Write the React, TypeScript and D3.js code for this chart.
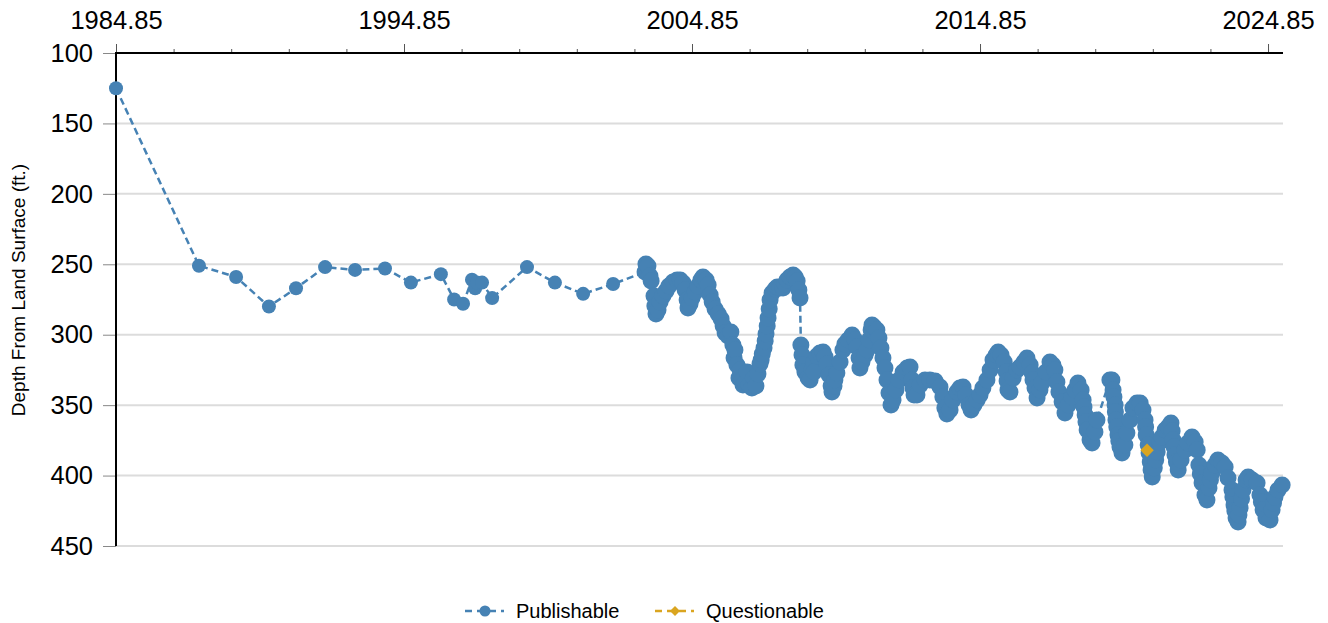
import React, { useEffect, useRef } from 'react';
import * as d3 from 'd3';

// top axis labels (decimal years) and depth ticks
const yearTicks = [1984.85, 1994.85, 2004.85, 2014.85, 2024.85];
const depthTicks = [100, 150, 200, 250, 300, 350, 400, 450];

// periodic tape measurements, [decimal year, depth ft]
const periodic: [number, number][] = [
  [1984.85, 125], [1987.73, 251], [1989.02, 259], [1990.16, 280], [1991.1, 267],
  [1992.11, 252], [1993.15, 254], [1994.19, 253], [1995.09, 263], [1996.13, 257],
  [1996.59, 275], [1996.9, 278], [1997.21, 261], [1997.32, 267], [1997.38, 263],
  [1997.56, 263], [1997.91, 274], [1999.12, 252], [2000.09, 263], [2001.07, 271],
  [2002.11, 264],
];

// continuous recorder record
const recorder: [number, number][] = [
  [2003.22, 255.5], [2003.25, 249.8], [2003.32, 251.2], [2003.39, 258.3], [2003.43, 261.9],
  [2003.53, 272.5], [2003.56, 279.6], [2003.6, 285.3], [2003.67, 282.4], [2003.74, 276.8],
  [2003.84, 272.5], [2003.95, 269.0], [2004.05, 265.4], [2004.19, 262.6], [2004.33, 261.2],
  [2004.44, 261.2], [2004.54, 263.3], [2004.61, 268.3], [2004.68, 275.4], [2004.71, 281.0],
  [2004.78, 278.2], [2004.85, 273.9], [2004.96, 269.7], [2005.06, 265.4], [2005.16, 261.2],
  [2005.23, 259.0], [2005.34, 261.2], [2005.41, 264.7], [2005.48, 271.8], [2005.55, 276.8],
  [2005.65, 281.7], [2005.76, 285.3], [2005.86, 288.8], [2005.93, 293.8], [2006.0, 298.8],
  [2006.1, 300.9], [2006.2, 298.1], [2006.27, 307.3], [2006.31, 316.5], [2006.34, 310.8],
  [2006.41, 321.5], [2006.48, 330.7], [2006.52, 325.0], [2006.59, 332.1], [2006.62, 335.7],
  [2006.69, 334.3], [2006.76, 326.5], [2006.83, 335.7], [2006.93, 337.8], [2007.0, 330.7],
  [2007.07, 336.4], [2007.14, 327.9], [2007.21, 320.8], [2007.25, 317.9], [2007.29, 313.7],
  [2007.35, 309.4], [2007.39, 304.5], [2007.42, 299.5], [2007.46, 293.8], [2007.49, 288.1],
  [2007.53, 281.7], [2007.56, 275.4], [2007.63, 270.4], [2007.74, 267.5], [2007.81, 266.1],
  [2007.91, 266.8], [2008.01, 266.8], [2008.08, 264.0], [2008.15, 261.2], [2008.25, 259.0],
  [2008.36, 257.6], [2008.43, 259.0], [2008.5, 261.9], [2008.56, 268.3], [2008.6, 273.9],
  [2008.63, 307.3], [2008.67, 314.4], [2008.7, 321.5], [2008.77, 326.5], [2008.88, 330.7],
  [2008.95, 332.1], [2009.02, 325.0], [2009.08, 319.4], [2009.09, 326.5], [2009.19, 315.1],
  [2009.29, 313.0], [2009.4, 312.3], [2009.47, 315.8], [2009.54, 320.8], [2009.61, 328.6],
  [2009.68, 336.4], [2009.71, 340.7], [2009.78, 336.4], [2009.81, 332.1], [2009.88, 327.2],
  [2009.99, 319.4], [2010.09, 310.8], [2010.16, 306.6], [2010.27, 303.8], [2010.41, 300.2],
  [2010.51, 303.8], [2010.58, 308.7], [2010.65, 316.5], [2010.68, 323.6], [2010.75, 319.4],
  [2010.86, 314.4], [2010.93, 310.8], [2011.0, 303.8], [2011.07, 296.6], [2011.1, 293.1],
  [2011.17, 294.5], [2011.27, 296.6], [2011.34, 302.3], [2011.41, 309.4], [2011.48, 316.5],
  [2011.55, 323.6], [2011.62, 332.1], [2011.69, 341.4], [2011.76, 349.9], [2011.83, 346.3],
  [2011.93, 339.2], [2012.04, 332.1], [2012.18, 326.5], [2012.32, 323.6], [2012.42, 322.9],
  [2012.49, 332.1], [2012.52, 337.8], [2012.56, 342.8], [2012.66, 342.8], [2012.77, 335.7],
  [2012.94, 332.1], [2013.11, 332.1], [2013.29, 332.9], [2013.46, 337.1], [2013.56, 344.2],
  [2013.63, 352.0], [2013.7, 356.3], [2013.81, 353.5], [2013.91, 346.3], [2014.05, 340.7],
  [2014.15, 337.8], [2014.26, 337.1], [2014.36, 342.8], [2014.47, 349.9], [2014.54, 353.5],
  [2014.64, 349.9], [2014.75, 346.3], [2014.85, 342.8], [2014.95, 337.8], [2015.09, 332.1],
  [2015.2, 325.0], [2015.3, 318.0], [2015.41, 314.4], [2015.48, 312.3], [2015.58, 314.4],
  [2015.69, 319.4], [2015.76, 326.5], [2015.79, 332.9], [2015.82, 339.2], [2015.89, 340.7],
  [2016.0, 330.7], [2016.13, 325.0], [2016.24, 322.9], [2016.38, 319.4], [2016.48, 316.5],
  [2016.59, 321.5], [2016.66, 327.2], [2016.69, 332.1], [2016.76, 337.8], [2016.83, 344.9],
  [2016.93, 339.2], [2017.0, 334.3], [2017.14, 326.5], [2017.28, 319.4], [2017.38, 321.5],
  [2017.45, 325.0], [2017.52, 333.6], [2017.59, 340.7], [2017.7, 347.8], [2017.8, 355.6],
  [2017.91, 349.9], [2018.04, 344.2], [2018.15, 339.2], [2018.25, 334.3], [2018.36, 339.2],
  [2018.43, 346.3], [2018.46, 351.3], [2018.5, 357.0], [2018.53, 362.0], [2018.57, 367.6],
  [2018.67, 374.7], [2018.74, 376.9], [2018.84, 369.1], [2018.91, 360.5],
  [2019.36, 332.1], [2019.43, 332.1], [2019.47, 339.2], [2019.5, 344.2], [2019.54, 349.9],
  [2019.55, 354.9], [2019.57, 360.5], [2019.6, 365.5], [2019.64, 371.2], [2019.67, 375.5],
  [2019.71, 379.7], [2019.78, 384.0], [2019.88, 378.3], [2019.95, 369.8], [2020.06, 360.5],
  [2020.16, 352.0], [2020.3, 348.5], [2020.41, 348.5], [2020.51, 353.5], [2020.58, 360.5],
  [2020.6, 365.5], [2020.62, 371.2], [2020.69, 378.3], [2020.72, 384.0], [2020.76, 390.4],
  [2020.79, 396.0], [2020.83, 401.0], [2020.9, 394.6], [2020.95, 388.9], [2021.0, 383.3],
  [2021.1, 376.2], [2021.17, 372.6], [2021.28, 367.6], [2021.38, 365.5], [2021.48, 362.7],
  [2021.52, 368.4], [2021.55, 374.7], [2021.59, 379.7], [2021.62, 385.4], [2021.67, 390.4],
  [2021.73, 396.0], [2021.83, 388.9], [2021.97, 381.8], [2022.07, 376.9], [2022.21, 372.6],
  [2022.32, 376.2], [2022.39, 381.8], [2022.45, 392.5], [2022.5, 398.9], [2022.56, 405.3],
  [2022.66, 413.8], [2022.73, 417.3], [2022.8, 408.8], [2022.85, 403.1], [2022.9, 398.2],
  [2023.01, 392.5], [2023.11, 388.9], [2023.25, 391.1], [2023.36, 393.9], [2023.46, 401.7],
  [2023.6, 410.2], [2023.63, 415.2], [2023.67, 420.9], [2023.7, 425.2], [2023.74, 430.1],
  [2023.81, 433.0], [2023.84, 428.0], [2023.88, 423.0], [2023.93, 416.6], [2023.98, 410.2],
  [2024.09, 403.1], [2024.16, 401.0], [2024.3, 403.1], [2024.47, 405.3], [2024.57, 413.8],
  [2024.62, 418.8], [2024.68, 424.4], [2024.78, 430.1], [2024.92, 431.5], [2024.99, 424.4],
  [2025.04, 419.5], [2025.09, 415.2], [2025.2, 410.2], [2025.34, 406.7],
];

const questionable: [number, number][] = [[2020.65, 382]];

const BLUE = '#4682b4';
const GOLD = '#daa520';
const FONT = 'Arial, "Liberation Sans", sans-serif';

const App = () => {
  const svgRef = useRef<SVGSVGElement>(null);

  useEffect(() => {
    const svg = d3.select(svgRef.current);
    svg.selectAll('*').remove();

    const left = 116, right = 1283, top = 53, bottom = 546;
    const x = d3.scaleLinear().domain([1984.85, 2025.37]).range([left, right]);
    const y = d3.scaleLinear().domain([100, 450]).range([top, bottom]);

    // horizontal grid
    svg.append('g')
      .selectAll('line')
      .data(depthTicks.slice(1))
      .join('line')
      .attr('x1', left)
      .attr('x2', right)
      .attr('y1', (d) => y(d))
      .attr('y2', (d) => y(d))
      .attr('stroke', '#dcdcdc')
      .attr('stroke-width', 2);

    // top axis: minor ticks every 2 yrs, labels every 10
    const minorTicks = d3.range(0, 21).map((i) => 1984.85 + i * 2);
    const minorAxis = svg.append('g')
      .attr('transform', `translate(0,${top})`)
      .call(d3.axisTop(x).tickValues(minorTicks).tickSize(4).tickFormat(() => ''));
    minorAxis.select('.domain').remove();
    minorAxis.selectAll('line').attr('stroke', '#555');

    const majorAxis = svg.append('g')
      .attr('transform', `translate(0,${top})`)
      .call(
        d3.axisTop(x)
          .tickValues(yearTicks)
          .tickSize(9)
          .tickPadding(15)
          .tickFormat((d) => (d as number).toFixed(2))
      );
    majorAxis.select('.domain').remove();
    majorAxis.selectAll('line').attr('stroke', '#555');
    majorAxis.selectAll('text')
      .attr('font-family', FONT)
      .attr('font-size', 25.5)
      .attr('fill', '#000');

    // left axis
    const yAxis = svg.append('g')
      .attr('transform', `translate(${left},0)`)
      .call(d3.axisLeft(y).tickValues(depthTicks).tickSize(13).tickPadding(10));
    yAxis.select('.domain').remove();
    yAxis.selectAll('line').attr('stroke', '#888');
    yAxis.selectAll('text')
      .attr('font-family', FONT)
      .attr('font-size', 25.5)
      .attr('fill', '#000');

    svg.append('line')
      .attr('x1', left).attr('x2', right)
      .attr('y1', top).attr('y2', top)
      .attr('stroke', '#000').attr('stroke-width', 2);
    svg.append('line')
      .attr('x1', left).attr('x2', left)
      .attr('y1', top - 1).attr('y2', bottom)
      .attr('stroke', '#000').attr('stroke-width', 2);

    svg.append('text')
      .attr('transform', `translate(25,290) rotate(-90)`)
      .attr('text-anchor', 'middle')
      .attr('font-family', FONT)
      .attr('font-size', 19)
      .attr('fill', '#000')
      .text('Depth From Land Surface (ft.)');

    // series
    const all = [...periodic, ...recorder];
    const line = d3.line<[number, number]>()
      .x((d) => x(d[0]))
      .y((d) => y(d[1]));

    svg.append('path')
      .datum(all)
      .attr('d', line)
      .attr('fill', 'none')
      .attr('stroke', BLUE)
      .attr('stroke-width', 2.5)
      .attr('stroke-dasharray', '7,4');

    svg.append('g')
      .selectAll('circle')
      .data(periodic)
      .join('circle')
      .attr('cx', (d) => x(d[0]))
      .attr('cy', (d) => y(d[1]))
      .attr('r', 7)
      .attr('fill', BLUE);

    svg.append('g')
      .selectAll('circle')
      .data(recorder)
      .join('circle')
      .attr('cx', (d) => x(d[0]))
      .attr('cy', (d) => y(d[1]))
      .attr('r', 8.5)
      .attr('fill', BLUE);

    const diamond = d3.symbol(d3.symbolSquare, 90);
    svg.append('g')
      .selectAll('path')
      .data(questionable)
      .join('path')
      .attr('d', diamond)
      .attr('transform', (d) => `translate(${x(d[0])},${y(d[1])}) rotate(45)`)
      .attr('fill', GOLD);

    // legend
    const legendY = 611;
    const lg = svg.append('g');
    lg.append('line')
      .attr('x1', 465).attr('x2', 504).attr('y1', legendY).attr('y2', legendY)
      .attr('stroke', BLUE).attr('stroke-width', 2.5).attr('stroke-dasharray', '7,5');
    lg.append('circle').attr('cx', 485).attr('cy', legendY).attr('r', 5.5).attr('fill', BLUE);
    lg.append('text')
      .attr('x', 516).attr('y', legendY + 7)
      .attr('font-family', FONT).attr('font-size', 20).attr('fill', '#000')
      .text('Publishable');
    lg.append('line')
      .attr('x1', 655).attr('x2', 694).attr('y1', legendY).attr('y2', legendY)
      .attr('stroke', GOLD).attr('stroke-width', 2.5).attr('stroke-dasharray', '7,5');
    lg.append('path')
      .attr('d', d3.symbol(d3.symbolSquare, 50)())
      .attr('transform', `translate(675,${legendY}) rotate(45)`)
      .attr('fill', GOLD);
    lg.append('text')
      .attr('x', 706).attr('y', legendY + 7)
      .attr('font-family', FONT).attr('font-size', 20).attr('fill', '#000')
      .text('Questionable');
  }, []);

  return (
    <svg
      ref={svgRef}
      width={1328}
      height={623}
      style={{ position: 'absolute', left: 0, top: 0, background: '#fff' }}
    />
  );
};

export default App;
